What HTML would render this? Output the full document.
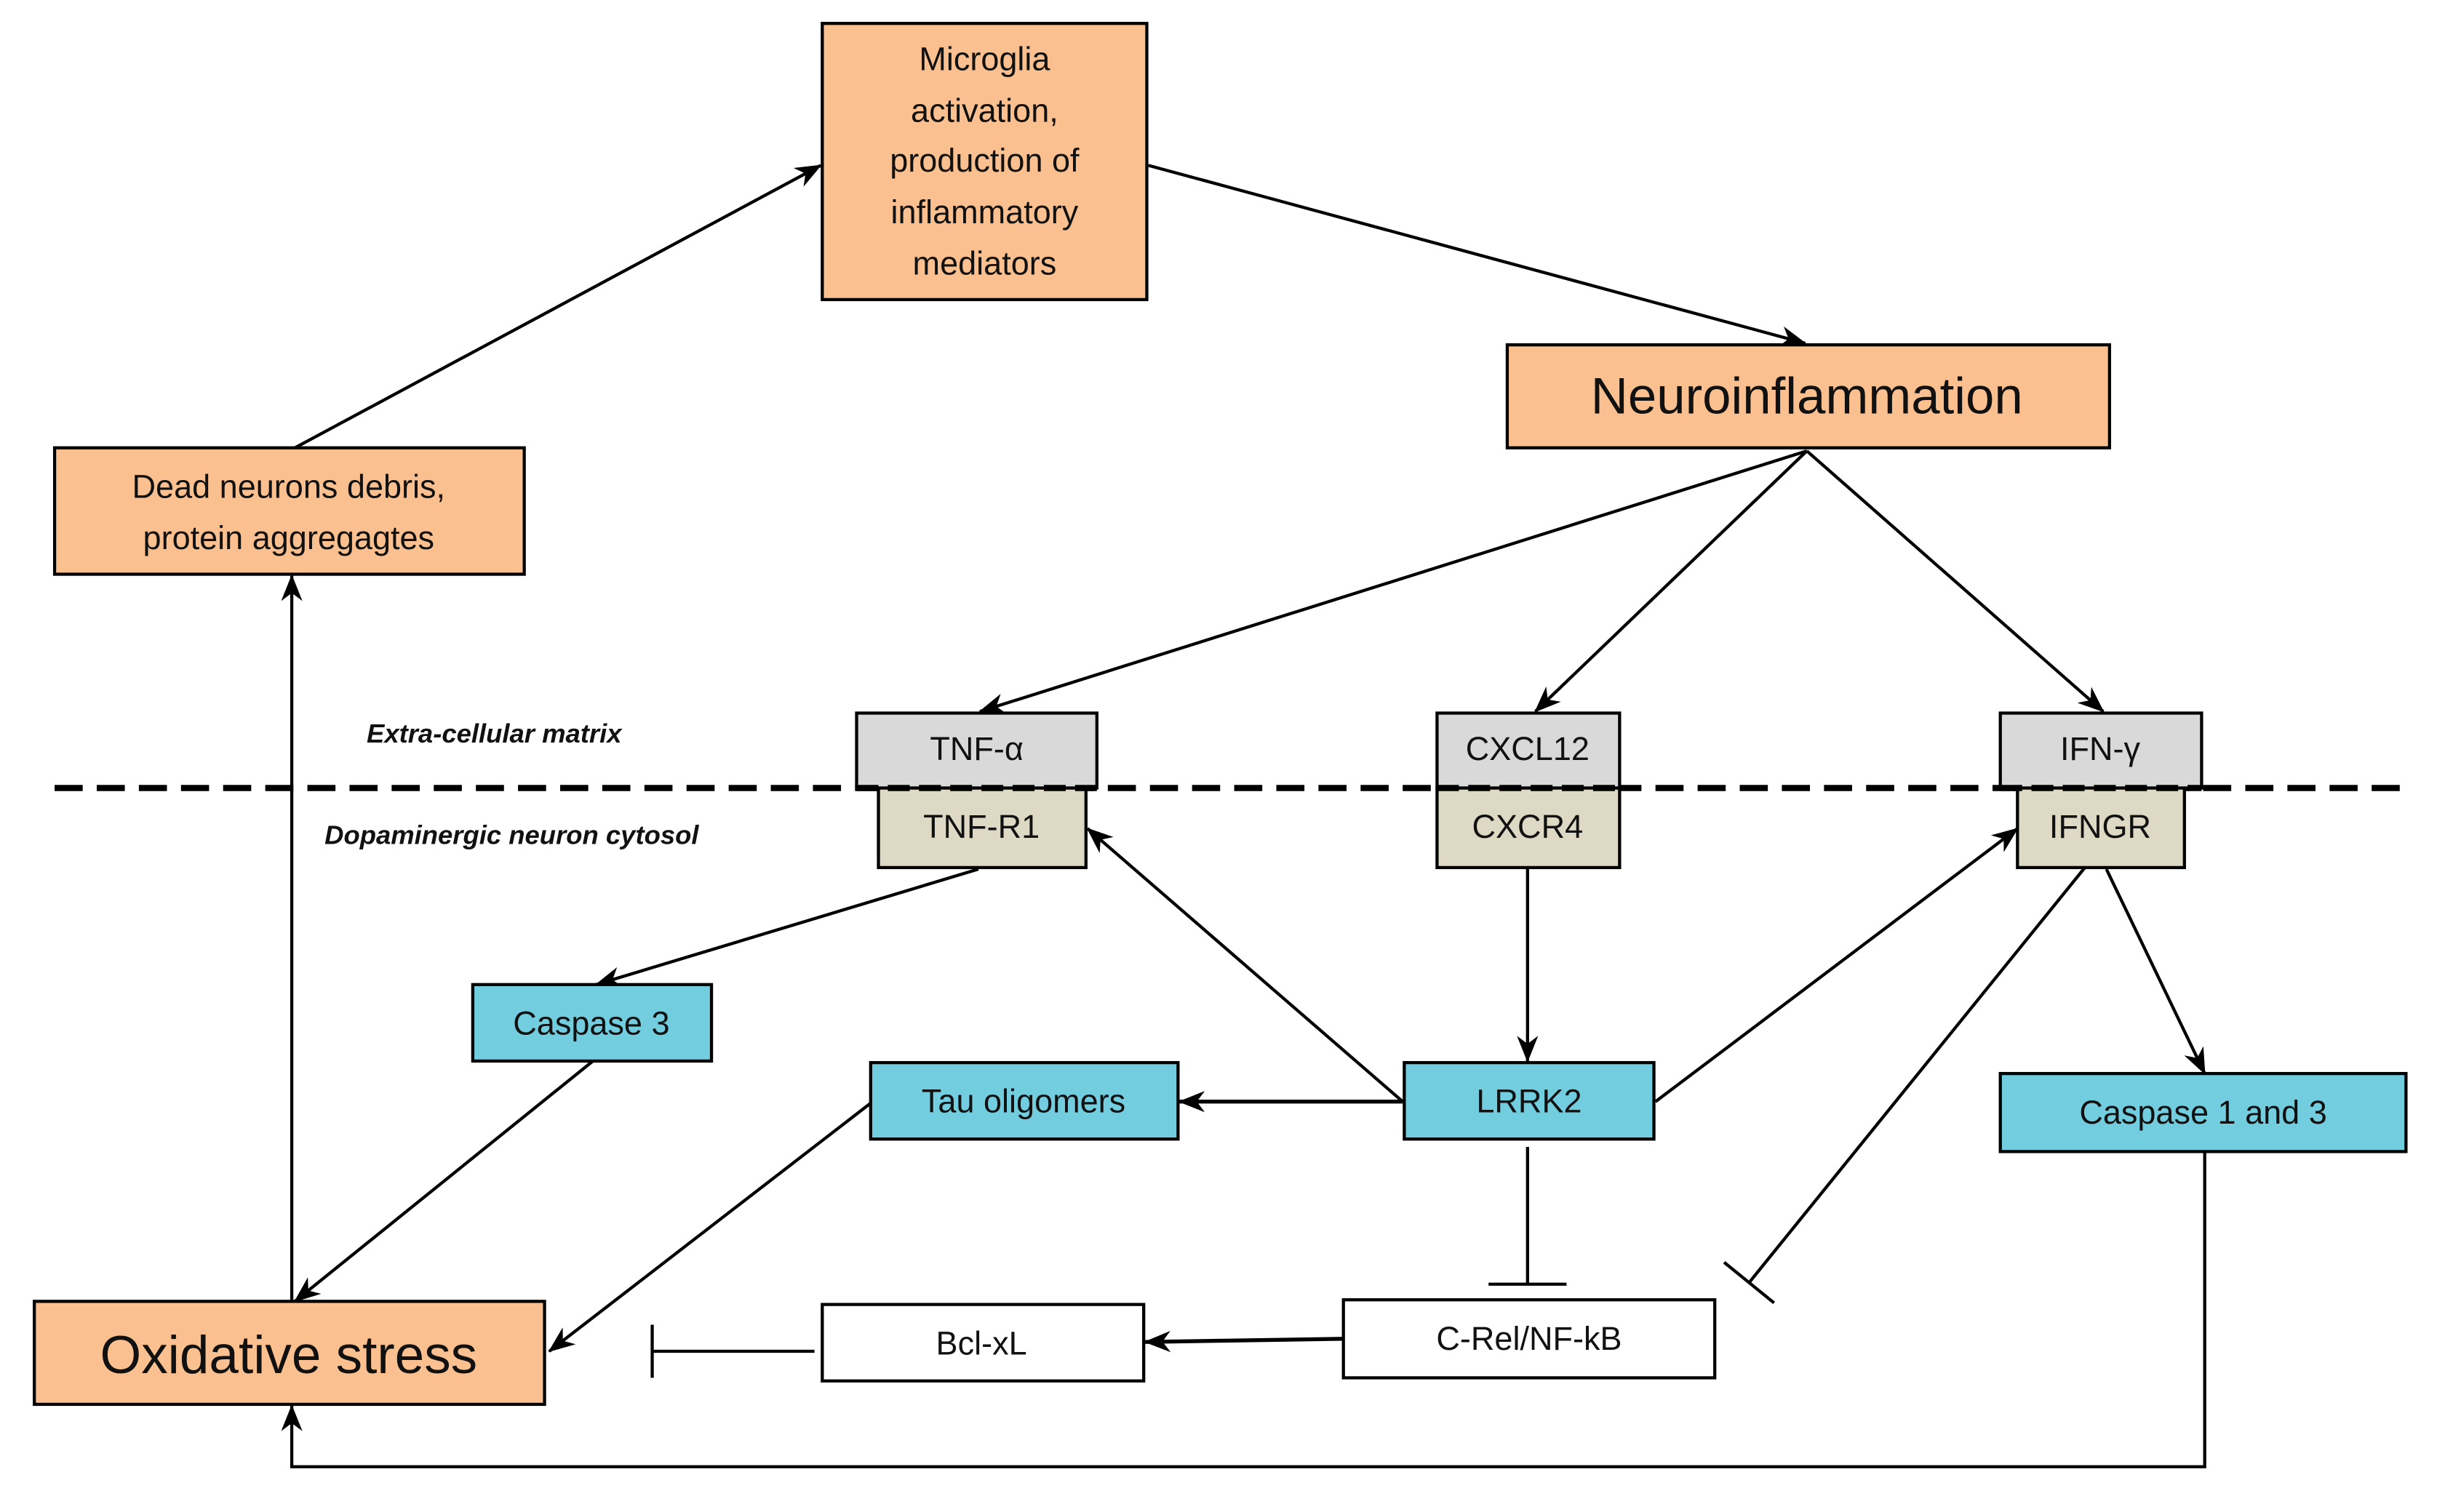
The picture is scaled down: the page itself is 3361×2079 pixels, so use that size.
<!DOCTYPE html>
<html><head><meta charset="utf-8"><style>
html,body{margin:0;padding:0;background:#fff;}
svg{display:block;}
text{font-family:"Liberation Sans",sans-serif;fill:#111;}
</style></head><body>
<svg width="3361" height="2079" viewBox="0 0 1567 969" preserveAspectRatio="none" xmlns="http://www.w3.org/2000/svg">
<defs>
<marker id="a" viewBox="0 0 20 16" refX="19" refY="8" markerWidth="17" markerHeight="14" markerUnits="userSpaceOnUse" orient="auto">
<path d="M0,0 L20,8 L0,16 L6,8 Z" fill="#000"/>
</marker>
</defs>
<rect width="1567" height="969" fill="#fff"/>

<line x1="35" y1="505" x2="1545" y2="505" stroke="#000" stroke-width="4" stroke-dasharray="18,9"/>

<g stroke="#000" stroke-width="2" fill="none">
<line x1="189" y1="287" x2="526" y2="106" marker-end="url(#a)"/>
<line x1="736" y1="106" x2="1157" y2="220" marker-end="url(#a)"/>
<line x1="1158" y1="289" x2="628" y2="456" marker-end="url(#a)"/>
<line x1="1158" y1="289" x2="984" y2="456" marker-end="url(#a)"/>
<line x1="1158" y1="289" x2="1348" y2="456" marker-end="url(#a)"/>
<line x1="627" y1="557" x2="382" y2="631" marker-end="url(#a)"/>
<line x1="380" y1="680" x2="189" y2="834" marker-end="url(#a)"/>
<line x1="558" y1="707" x2="352" y2="866" marker-end="url(#a)"/>
<line x1="187" y1="834" x2="187" y2="369" marker-end="url(#a)"/>
<line x1="899" y1="706" x2="697" y2="531" marker-end="url(#a)"/>
<line x1="899" y1="706" x2="756" y2="706" marker-end="url(#a)" stroke-width="2.5"/>
<line x1="979" y1="557" x2="979" y2="680" marker-end="url(#a)"/>
<line x1="1061" y1="706" x2="1293" y2="531" marker-end="url(#a)"/>
<line x1="1350" y1="557" x2="1413" y2="688" marker-end="url(#a)"/>
<line x1="979" y1="735" x2="979" y2="823"/>
<line x1="954" y1="823" x2="1004" y2="823"/>
<line x1="1337" y1="555" x2="1121" y2="822"/>
<line x1="1105" y1="809" x2="1137" y2="835"/>
<line x1="861" y1="858" x2="734" y2="860" marker-end="url(#a)" stroke-width="2.5"/>
<line x1="522" y1="866" x2="418" y2="866"/>
<line x1="418" y1="849" x2="418" y2="883"/>
<polyline points="1413,738 1413,940 187,940 187,901" marker-end="url(#a)"/>
</g>

<g stroke="#000" stroke-width="2">
<rect x="527" y="15" width="208" height="177" fill="#FBC08F"/>
<rect x="966" y="221" width="386" height="66" fill="#FBC08F"/>
<rect x="35" y="287" width="301" height="81" fill="#FBC08F"/>
<rect x="22" y="834" width="327" height="66" fill="#FBC08F"/>
<rect x="563" y="505" width="133" height="51" fill="#DDD9C4"/>
<rect x="549" y="457" width="154" height="48" fill="#D9D9D9"/>
<rect x="921" y="505" width="117" height="51" fill="#DDD9C4"/>
<rect x="921" y="457" width="117" height="48" fill="#D9D9D9"/>
<rect x="1293" y="505" width="107" height="51" fill="#DDD9C4"/>
<rect x="1282" y="457" width="129" height="48" fill="#D9D9D9"/>
<rect x="303" y="631" width="153" height="49" fill="#72CDDF"/>
<rect x="558" y="681" width="197" height="49" fill="#72CDDF"/>
<rect x="900" y="681" width="160" height="49" fill="#72CDDF"/>
<rect x="1282" y="688" width="260" height="50" fill="#72CDDF"/>
<rect x="527" y="836" width="206" height="49" fill="#fff"/>
<rect x="861" y="833" width="238" height="50" fill="#fff"/>
</g>
<g stroke="#000" stroke-width="4" stroke-dasharray="14,6">
<line x1="549" y1="505" x2="703" y2="505"/>
<line x1="921" y1="505" x2="1038" y2="505"/>
<line x1="1282" y1="505" x2="1411" y2="505"/>
</g>

<g text-anchor="middle" font-size="21">
<text x="631" y="45">Microglia</text>
<text x="631" y="78">activation,</text>
<text x="631" y="110">production of</text>
<text x="631" y="143">inflammatory</text>
<text x="631" y="176">mediators</text>
<text x="1158" y="265" font-size="33">Neuroinflammation</text>
<text x="185" y="319">Dead neurons debris,</text>
<text x="185" y="352">protein aggregagtes</text>
<text x="185" y="880" font-size="34">Oxidative stress</text>
<text x="626" y="487">TNF-α</text>
<text x="629" y="537">TNF-R1</text>
<text x="979" y="487">CXCL12</text>
<text x="979" y="537">CXCR4</text>
<text x="1346" y="487">IFN-γ</text>
<text x="1346" y="537">IFNGR</text>
<text x="379" y="663">Caspase 3</text>
<text x="656" y="713">Tau oligomers</text>
<text x="980" y="713">LRRK2</text>
<text x="1412" y="720">Caspase 1 and 3</text>
<text x="629" y="868">Bcl-xL</text>
<text x="980" y="865">C-Rel/NF-kB</text>
</g>
<text x="235" y="476" font-size="17" font-weight="bold" font-style="italic">Extra-cellular matrix</text>
<text x="208" y="541" font-size="17" font-weight="bold" font-style="italic">Dopaminergic neuron cytosol</text>
</svg>
</body></html>
